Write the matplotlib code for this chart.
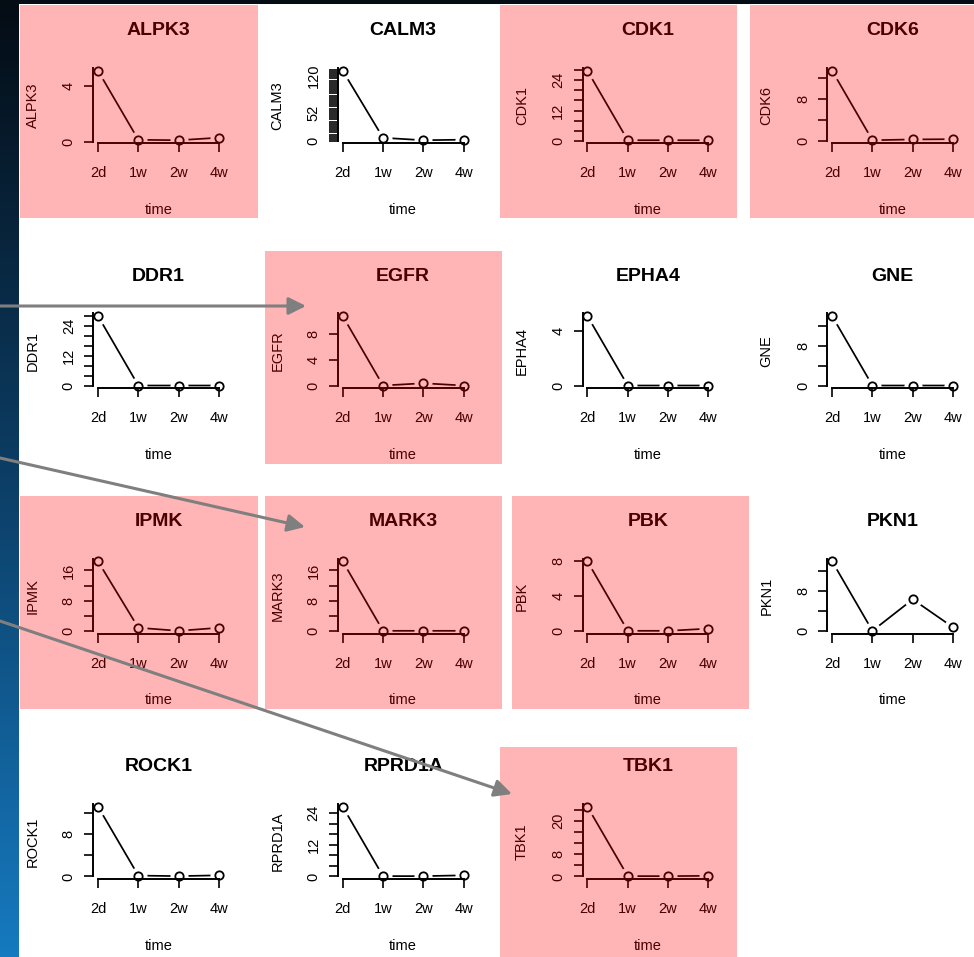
import numpy as np
import matplotlib
matplotlib.use("Agg")
import matplotlib.pyplot as plt
from matplotlib.patches import Rectangle, FancyArrowPatch
from matplotlib.ticker import MultipleLocator, FuncFormatter

plt.rcParams["font.family"] = ["Liberation Sans", "DejaVu Sans"]

# data
times = ["2d", "1w", "2w", "4w"]
genes = ["ALPK3", "CALM3", "CDK1", "CDK6",
         "DDR1", "EGFR", "EPHA4", "GNE",
         "IPMK", "MARK3", "PBK", "PKN1",
         "ROCK1", "RPRD1A", "TBK1"]
alpk3 = [5.05, 0.15, 0.12, 0.3]
calm3 = [130, 6.0, 1.5, 2.5]
cdk1 = [27.7, 0.3, 0.3, 0.3]
cdk6 = [13.3, 0.1, 0.25, 0.3]
ddr1 = [27.9, 0.1, 0.1, 0.1]
egfr = [10.8, 0.05, 0.4, 0.05]
epha4 = [5.05, 0.05, 0.05, 0.05]
gne = [14.0, 0.1, 0.1, 0.1]
ipmk = [18.4, 0.9, 0.1, 0.9]
mark3 = [18.4, 0.1, 0.1, 0.1]
pbk = [8.0, 0.05, 0.05, 0.3]
pkn1 = [13.9, 0.0, 6.3, 0.7]
rock1 = [13.1, 0.15, 0.05, 0.2]
rprd1a = [26.5, 0.1, 0.1, 0.4]
tbk1 = [25.2, 0.1, 0.1, 0.2]
values = [alpk3, calm3, cdk1, cdk6, ddr1, egfr, epha4, gne,
          ipmk, mark3, pbk, pkn1, rock1, rprd1a, tbk1]

# y tick labels that R kept (ticks every 4)
shown_labels = [[0, 4], [0, 52, 120], [0, 12, 24], [0, 8],
                [0, 12, 24], [0, 4, 8], [0, 4], [0, 8],
                [0, 8, 16], [0, 8, 16], [0, 4, 8], [0, 8],
                [0, 8], [0, 12, 24], [0, 8, 20]]

highlighted = ["ALPK3", "CDK1", "CDK6", "EGFR", "IPMK", "MARK3", "PBK", "TBK1"]

# layout in pixels
W, H = 974, 957
box_px = {"ALPK3": (20, 5, 258, 218), "CDK1": (500, 5, 737, 218),
          "CDK6": (750, 5, 974, 218), "EGFR": (265, 251, 502, 464),
          "IPMK": (20, 496, 258, 709), "MARK3": (265, 496, 502, 709),
          "PBK": (512, 496, 749, 709), "TBK1": (500, 747, 737, 957)}
arrows_px = [((0, 306), (306, 306)), ((0, 458), (305, 527)),
             ((0, 621), (512, 794))]

fig = plt.figure(figsize=(W / 100, H / 100), dpi=100)


def fx(px):
    return px / W


def fy(py):
    return 1 - py / H


# slide background: dark-to-blue strip on the left, white panel
bg = fig.add_axes([0, 0, 1, 1], zorder=-10)
t = np.linspace(0, 1, 256)[:, None]
top_c = np.array([4, 12, 20]) / 255
mid_c = np.array([12, 62, 102]) / 255
bot_c = np.array([22, 122, 192]) / 255
grad = np.where(t < 0.5, top_c + (mid_c - top_c) * (t / 0.5),
                mid_c + (bot_c - mid_c) * ((t - 0.5) / 0.5))
bg.imshow(grad[:, None, :], extent=[0, W, H, 0], aspect="auto")
bg.add_patch(Rectangle((19, 4), W - 19, H - 4, facecolor="white", edgecolor="none"))
bg.set_xlim(0, W)
bg.set_ylim(H, 0)
bg.axis("off")

x = np.arange(1, 5)
for i, gene in enumerate(genes):
    r, c = divmod(i, 4)
    left = 93.2 + c * 244.7
    top = 68 + r * 245.3
    ax = fig.add_axes([fx(left), fy(top + 75), fx(130.6), 75 / H])
    ax.patch.set_visible(False)
    vals = np.array(values[i])

    # type="b": line with gaps round the points
    ax.plot(x, vals, color="black", lw=1.25, zorder=1.0, clip_on=False)
    ax.plot(x, vals, "o", ms=13, mfc="white", mec="none", zorder=1.2, clip_on=False)
    ax.plot(x, vals, "o", ms=6, mfc="none", mec="black", mew=1.3, zorder=3,
            clip_on=False)

    lo, hi = vals.min(), vals.max()
    pad = 0.04 * (hi - lo)
    ax.set_xlim(1 - 0.12, 4 + 0.12)
    ax.set_ylim(lo - pad, hi + pad)

    for s in ["top", "right"]:
        ax.spines[s].set_visible(False)
    ax.spines["bottom"].set_bounds(1, 4)
    ax.spines["left"].set_bounds(0, hi + pad)
    for s in ["bottom", "left"]:
        ax.spines[s].set_linewidth(1.4)
        ax.spines[s].set_zorder(2.5)

    ax.set_xticks(x, times)
    ax.yaxis.set_major_locator(MultipleLocator(4))
    keep = shown_labels[i]
    ax.yaxis.set_major_formatter(
        FuncFormatter(lambda v, p, keep=keep: "%d" % round(v) if round(v) in keep else ""))
    ax.tick_params(length=6.5, width=1.2, labelsize=10.5)
    ax.tick_params(axis="x", pad=10)
    ax.tick_params(axis="y", pad=6, labelrotation=90)
    for lab in ax.get_yticklabels():
        lab.set_va("center")

    ax.set_title(gene, fontsize=14, fontweight="bold", pad=23.5)
    ax.set_xlabel("time", fontsize=10.5, labelpad=16.5)
    ax.set_ylabel(gene, fontsize=10.5, labelpad=16)

# pink highlight boxes laid over the plots
for gene in highlighted:
    x0, y0, x1, y1 = box_px[gene]
    fig.add_artist(Rectangle((fx(x0), fy(y1)), fx(x1 - x0), (y1 - y0) / H,
                             transform=fig.transFigure, facecolor="red",
                             alpha=0.29, edgecolor="none", zorder=5))

for a, b in arrows_px:
    fig.add_artist(FancyArrowPatch((fx(a[0]), fy(a[1])), (fx(b[0]), fy(b[1])),
                                   transform=fig.transFigure,
                                   arrowstyle="-|>,head_length=0.7,head_width=0.35",
                                   mutation_scale=15, color="#7f7f7f", lw=2.2,
                                   shrinkA=0, shrinkB=0, zorder=6))

fig.savefig("out.png", dpi=100)
